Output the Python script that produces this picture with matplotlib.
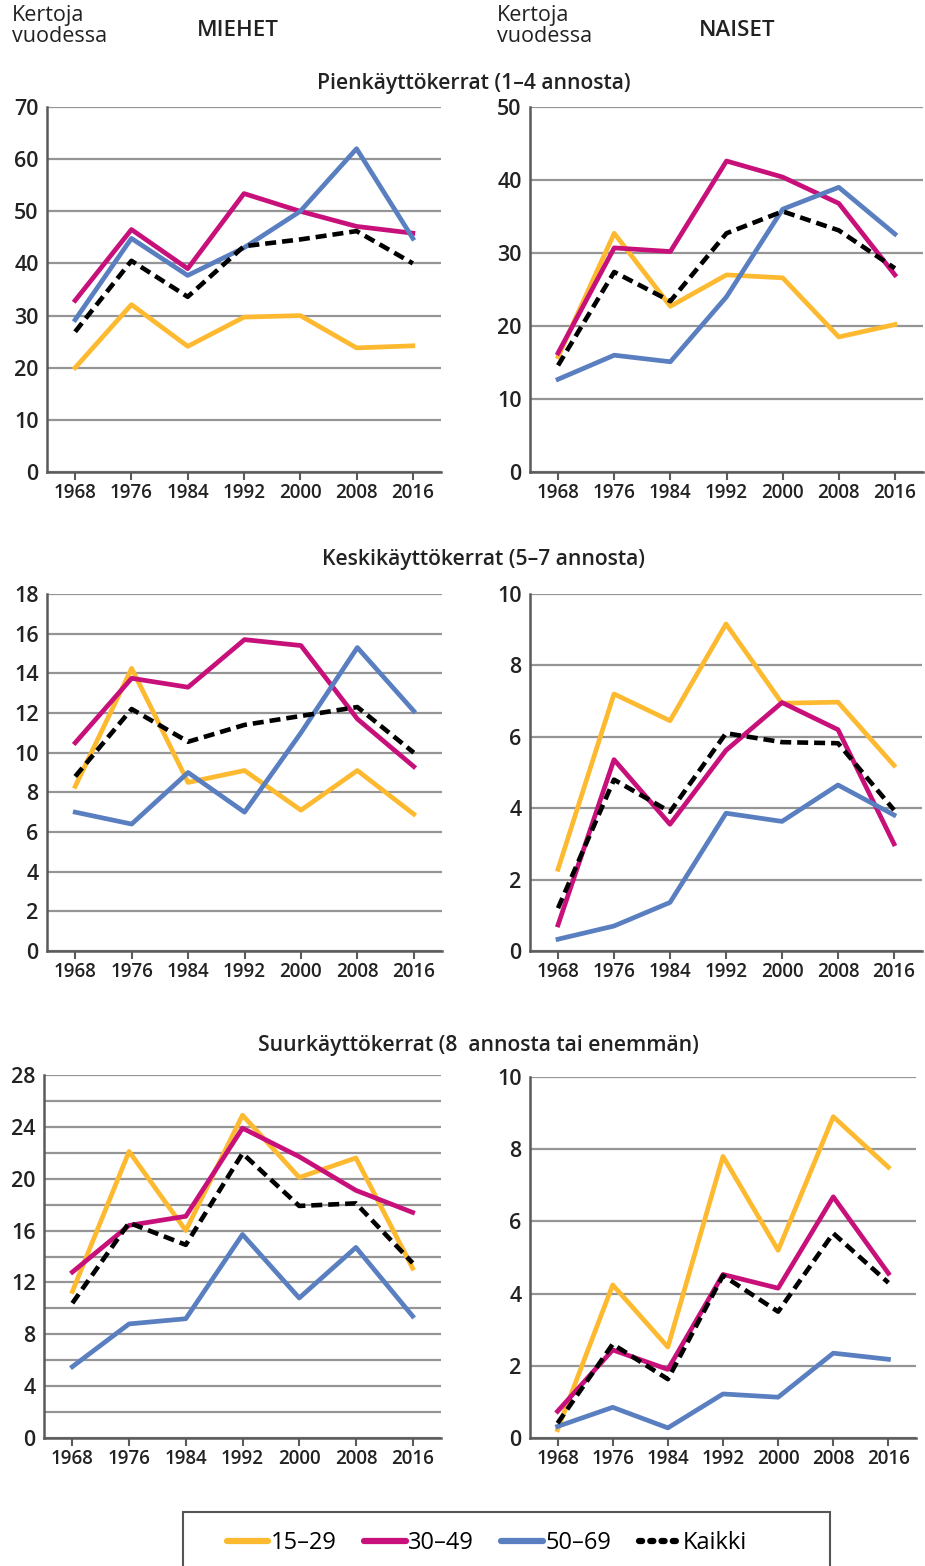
import matplotlib
matplotlib.use('Agg')
import matplotlib.pyplot as plt
from matplotlib.lines import Line2D
from matplotlib.patches import Rectangle

plt.rcParams['font.family'] = ['Open Sans', 'DejaVu Sans']

years = [1968, 1976, 1984, 1992, 2000, 2008, 2016]
groups = ['15–29', '30–49', '50–69', 'Kaikki']

# Pienkäyttökerrat (1–4 annosta)
pien_miehet = {
    '15–29': [20.0, 32.1, 24.1, 29.7, 30.0, 23.8, 24.2],
    '30–49': [32.9, 46.5, 39.0, 53.4, 50.0, 47.1, 45.8],
    '50–69': [29.2, 44.8, 37.7, 43.0, 50.0, 62.0, 44.8],
    'Kaikki': [26.9, 40.5, 33.6, 43.3, 44.6, 46.2, 40.0],
}
pien_naiset = {
    '15–29': [15.8, 32.7, 22.7, 27.0, 26.6, 18.5, 20.2],
    '30–49': [16.3, 30.7, 30.2, 42.6, 40.4, 36.8, 27.0],
    '50–69': [12.7, 16.0, 15.1, 24.0, 36.0, 39.0, 32.6],
    'Kaikki': [14.6, 27.4, 23.4, 32.7, 35.7, 33.1, 27.9],
}

# Keskikäyttökerrat (5–7 annosta)
keski_miehet = {
    '15–29': [8.3, 14.25, 8.5, 9.1, 7.1, 9.1, 6.9],
    '30–49': [10.5, 13.75, 13.3, 15.7, 15.4, 11.7, 9.3],
    '50–69': [7.0, 6.4, 9.0, 7.0, 11.0, 15.3, 12.1],
    'Kaikki': [8.8, 12.2, 10.55, 11.4, 11.85, 12.3, 10.0],
}
keski_naiset = {
    '15–29': [2.29, 7.2, 6.45, 9.16, 6.94, 6.97, 5.2],
    '30–49': [0.73, 5.36, 3.55, 5.62, 6.96, 6.2, 3.0],
    '50–69': [0.33, 0.7, 1.36, 3.86, 3.63, 4.65, 3.81],
    'Kaikki': [1.2, 4.8, 3.9, 6.1, 5.85, 5.82, 3.95],
}

# Suurkäyttökerrat (8 annosta tai enemmän)
suur_miehet = {
    '15–29': [11.3, 22.1, 16.0, 24.9, 20.1, 21.6, 13.1],
    '30–49': [12.8, 16.4, 17.1, 23.9, 21.7, 19.1, 17.4],
    '50–69': [5.5, 8.8, 9.2, 15.7, 10.8, 14.7, 9.4],
    'Kaikki': [10.4, 16.6, 14.9, 21.95, 17.9, 18.1, 13.5],
}
suur_naiset = {
    '15–29': [0.23, 4.24, 2.52, 7.8, 5.2, 8.9, 7.5],
    '30–49': [0.74, 2.44, 1.9, 4.53, 4.15, 6.68, 4.56],
    '50–69': [0.32, 0.85, 0.28, 1.22, 1.13, 2.35, 2.18],
    'Kaikki': [0.41, 2.6, 1.63, 4.5, 3.5, 5.67, 4.3],
}

colors = {'15–29': '#FDBA30', '30–49': '#C8107B', '50–69': '#5A7FC0', 'Kaikki': 'black'}

W, H = 925, 1566
fig = plt.figure(figsize=(W / 100, H / 100), dpi=100)
txt = '#222222'


def rect(x0, x1, ytop, ybot):
    return [x0 / W, 1 - ybot / H, (x1 - x0) / W, (ybot - ytop) / H]


def draw_panel(pos, data, ymax, ystep, gridstep):
    ax = fig.add_axes(rect(*pos))
    for g in groups:
        if g == 'Kaikki':
            ax.plot(years, data[g], color='black', lw=3.3,
                    linestyle=(0, (2.4, 1.3)), zorder=5)
        else:
            ax.plot(years, data[g], color=colors[g], lw=3.4, zorder=4)
    ax.set_xlim(1964, 2020)
    ax.set_ylim(0, ymax)
    ax.set_xticks(years)
    ax.set_yticks(range(0, ymax + 1, ystep))
    ax.set_yticks(range(0, ymax + 1, gridstep), minor=True)
    ax.grid(True, which='both', axis='y', color='#959595', lw=1.6, zorder=0)
    ax.set_axisbelow(True)
    for s in ['top', 'right']:
        ax.spines[s].set_visible(False)
    for s in ['left', 'bottom']:
        ax.spines[s].set_color('#5a5a5a')
        ax.spines[s].set_linewidth(1.8)
    ax.tick_params(axis='x', direction='out', length=6, width=1.5,
                   color='#5a5a5a', labelsize=13.5, pad=2, labelcolor=txt)
    ax.tick_params(axis='y', which='both', length=0, labelsize=15.5, pad=6,
                   labelcolor=txt)
    for lab in ax.get_yticklabels() + ax.get_xticklabels():
        lab.set_fontweight('semibold')
    return ax


draw_panel((47, 441, 107, 472), pien_miehet, 70, 10, 10)
draw_panel((530, 923, 107, 472), pien_naiset, 50, 10, 10)
draw_panel((47, 442, 594, 951), keski_miehet, 18, 2, 2)
draw_panel((530, 922, 594, 951), keski_naiset, 10, 2, 2)
draw_panel((44, 441, 1075, 1438), suur_miehet, 28, 4, 2)
draw_panel((530, 916, 1077, 1438), suur_naiset, 10, 2, 2)

# header texts
for x in (12, 497):
    fig.text(x / W, 1 - 5 / H, 'Kertoja\nvuodessa', fontsize=15.5, va='top',
             ha='left', linespacing=0.98, color=txt)
fig.text(238 / W, 1 - 31 / H, 'MIEHET', fontsize=16, fontweight='semibold',
         ha='center', va='center', color=txt)
fig.text(737 / W, 1 - 31 / H, 'NAISET', fontsize=16, fontweight='semibold',
         ha='center', va='center', color=txt)

# section titles
fig.text(474 / W, 1 - 84 / H, 'Pienkäyttökerrat (1–4 annosta)', fontsize=15.2,
         fontweight='semibold', ha='center', va='center', color=txt)
fig.text(483 / W, 1 - 559 / H, 'Keskikäyttökerrat (5–7 annosta)', fontsize=15.2,
         fontweight='semibold', ha='center', va='center', color=txt)
fig.text(478 / W, 1 - 1045 / H, 'Suurkäyttökerrat (8  annosta tai enemmän)',
         fontsize=15.2, fontweight='semibold', ha='center', va='center', color=txt)

# legend box (runs off the bottom edge)
fig.patches.append(Rectangle((183 / W, -0.01), (830 - 183) / W, 0.01 + (H - 1512) / H,
                             transform=fig.transFigure, fill=False,
                             edgecolor='#555555', lw=1.5))
handles = [
    Line2D([], [], color=colors['15–29'], lw=4.5, solid_capstyle='round'),
    Line2D([], [], color=colors['30–49'], lw=4.5, solid_capstyle='round'),
    Line2D([], [], color=colors['50–69'], lw=4.5, solid_capstyle='round'),
    Line2D([], [], color='black', lw=4.5, linestyle=(0, (0.5, 1.3)),
           dash_capstyle='round'),
]
fig.legend(handles, groups, loc='center', bbox_to_anchor=(487 / W, 1 - 1543 / H),
           ncol=4, frameon=False, fontsize=17, handlelength=1.75,
           handletextpad=0.12, columnspacing=1.15)

fig.savefig('out.png', dpi=100)
